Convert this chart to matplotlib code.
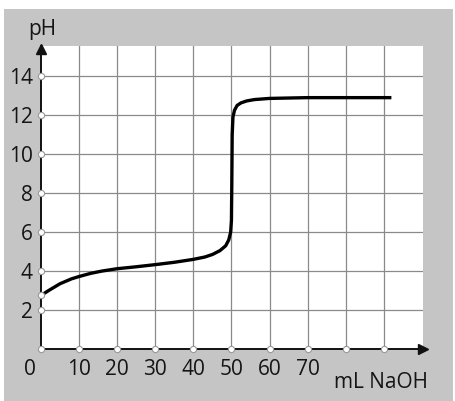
import matplotlib
matplotlib.use("Agg")
import matplotlib.pyplot as plt
from matplotlib.patches import Rectangle
from matplotlib.transforms import ScaledTranslation

# titration curve
ml_naoh = [0, 2, 5, 8, 10, 13, 16, 20, 25, 30, 35, 40, 43, 45, 47, 48.5, 49.3, 49.8,
           50.0, 50.1, 50.2, 50.4, 50.8, 51.5, 52.5, 54, 56, 60, 65, 70, 80, 92]
ph = [2.75, 3.0, 3.35, 3.6, 3.72, 3.88, 4.0, 4.12, 4.22, 4.33, 4.45, 4.6, 4.72, 4.85, 5.05,
      5.3, 5.6, 6.0, 6.6, 8.5, 11.0, 11.9, 12.25, 12.5, 12.63, 12.73, 12.8, 12.86, 12.88,
      12.9, 12.9, 12.9]

x_ticks = [0, 10, 20, 30, 40, 50, 60, 70, 80, 90]
x_labels = ["0", "10", "20", "30", "40", "50", "60", "70", "", ""]
y_ticks = [2, 4, 6, 8, 10, 12, 14]
y_labels = ["2", "4", "6", "8", "10", "12", "14"]

plt.rcParams['font.family'] = ['Open Sans', 'DejaVu Sans']

fig = plt.figure(figsize=(4.55, 4.01), dpi=100)
fig.patch.set_facecolor("white")
fig.add_artist(Rectangle((4 / 455, 0), 449 / 455, 392 / 401, transform=fig.transFigure,
                         facecolor="#c5c5c5", edgecolor="none", zorder=0))

ax = fig.add_axes([41 / 455, 52 / 401, 382 / 455, 303 / 401])
ax.set_facecolor("white")
ax.set_xlim(0, 100.3)
ax.set_ylim(0, 15.55)

for v in x_ticks[1:]:
    ax.axvline(v, color="#8a8a8a", lw=0.9, zorder=1)
for v in y_ticks:
    ax.axhline(v, color="#8a8a8a", lw=0.9, zorder=1)

ax.plot(ml_naoh, ph, color="black", lw=2.4, zorder=3, solid_capstyle="butt")

for s in ["top", "right"]:
    ax.spines[s].set_visible(False)
for s in ["left", "bottom"]:
    ax.spines[s].set_linewidth(1.4)
    ax.spines[s].set_color("#111111")
    ax.spines[s].set_zorder(4)

# arrow heads
ax.plot(1, 0, ">", color="#111111", ms=7, transform=ax.transAxes, clip_on=False, zorder=5)
ax.plot(0, 0.99, "^", color="#111111", ms=7, transform=ax.transAxes, clip_on=False, zorder=5)

# small white circles on the axes
ax.plot(x_ticks, [0] * len(x_ticks), "o", ms=4.5, mfc="white", mec="#999999", mew=0.8,
        clip_on=False, zorder=6)
ax.plot([0] * (len(y_ticks) + 1), y_ticks + [ph[0]], "o", ms=4.5, mfc="white",
        mec="#999999", mew=0.8, clip_on=False, zorder=6)

ax.set_xticks(x_ticks)
ax.set_xticklabels(x_labels)
ax.set_yticks(y_ticks)
ax.set_yticklabels(y_labels)
ax.tick_params(length=0, labelsize=15, colors="#151515")
ax.tick_params(axis="x", pad=7)
ax.tick_params(axis="y", pad=6)
lab0 = ax.get_xticklabels()[0]
lab0.set_transform(lab0.get_transform() + ScaledTranslation(-8 / 72, 0, fig.dpi_scale_trans))

fig.text(428 / 455, 1 - 382 / 401, "mL NaOH", ha="right", va="center", fontsize=15,
         color="#151515")
fig.text(42 / 455, 1 - 30 / 401, "pH", ha="center", va="center", fontsize=15,
         color="#151515")

fig.savefig("out.png", dpi=100, facecolor=fig.get_facecolor())
